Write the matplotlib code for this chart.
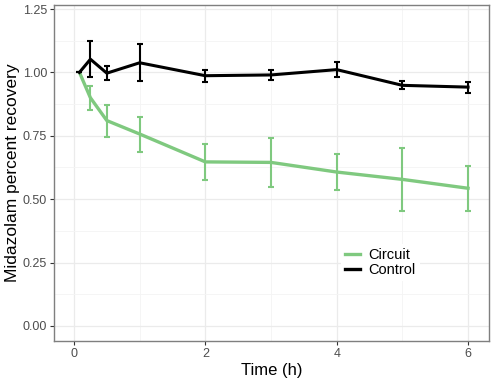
import numpy as np
import matplotlib
matplotlib.use("Agg")
import matplotlib.pyplot as plt
from matplotlib.ticker import MultipleLocator, FormatStrFormatter
from matplotlib.lines import Line2D

plt.rcParams["font.family"] = ["Liberation Sans", "DejaVu Sans"]

# Data
time_h = [0.083, 0.25, 0.5, 1, 2, 3, 4, 5, 6]
circuit_mean = [1.00, 0.90, 0.81, 0.757, 0.647, 0.645, 0.607, 0.578, 0.543]
circuit_err = [0.00, 0.048, 0.063, 0.069, 0.072, 0.097, 0.072, 0.125, 0.089]
control_mean = [1.00, 1.052, 0.997, 1.038, 0.987, 0.990, 1.011, 0.949, 0.942]
control_err = [0.00, 0.072, 0.028, 0.073, 0.023, 0.021, 0.030, 0.016, 0.022]
series_names = ["Circuit", "Control"]

green = "#7FC97F"
grey_txt = "#4D4D4D"

fig = plt.figure(figsize=(4.95, 3.83), dpi=100)
ax = fig.add_axes([0.109, 0.110, 0.879, 0.877])

ax.errorbar(time_h, circuit_mean, yerr=circuit_err, color=green, lw=2.4,
            elinewidth=1.5, capsize=2, capthick=1.5, zorder=3)
ax.errorbar(time_h, control_mean, yerr=control_err, color="black", lw=2.2,
            elinewidth=1.5, capsize=2, capthick=1.5, zorder=4)

ax.set_xlim(-0.305, 6.32)
ax.set_ylim(-0.059, 1.266)
ax.xaxis.set_major_locator(MultipleLocator(2))
ax.xaxis.set_minor_locator(MultipleLocator(1))
ax.yaxis.set_major_locator(MultipleLocator(0.25))
ax.yaxis.set_minor_locator(MultipleLocator(0.125))
ax.yaxis.set_major_formatter(FormatStrFormatter("%.2f"))

ax.grid(which="major", color="#EBEBEB", lw=0.9)
ax.grid(which="minor", color="#F4F4F4", lw=0.6)
ax.set_axisbelow(True)
ax.tick_params(which="major", length=3, color="#333333", labelsize=9,
               labelcolor=grey_txt, width=0.8, pad=2)
ax.tick_params(which="minor", length=0)
for s in ax.spines.values():
    s.set_color("#7F7F7F")
    s.set_linewidth(1.0)

ax.set_xlabel("Time (h)", fontsize=12, labelpad=2)
ax.set_ylabel("Midazolam percent recovery", fontsize=12.5, labelpad=2)

handles = [Line2D([], [], color=green, lw=2.4), Line2D([], [], color="black", lw=2.4)]
leg = ax.legend(handles, series_names, loc="center", bbox_to_anchor=(0.75, 0.234),
                frameon=True, fontsize=10.5, handlelength=1.0, handletextpad=0.6,
                labelspacing=0.05, borderpad=0.3)
leg.get_frame().set_edgecolor("none")
leg.get_frame().set_facecolor("white")
leg.get_frame().set_alpha(1.0)

fig.savefig("out.png", dpi=100)
